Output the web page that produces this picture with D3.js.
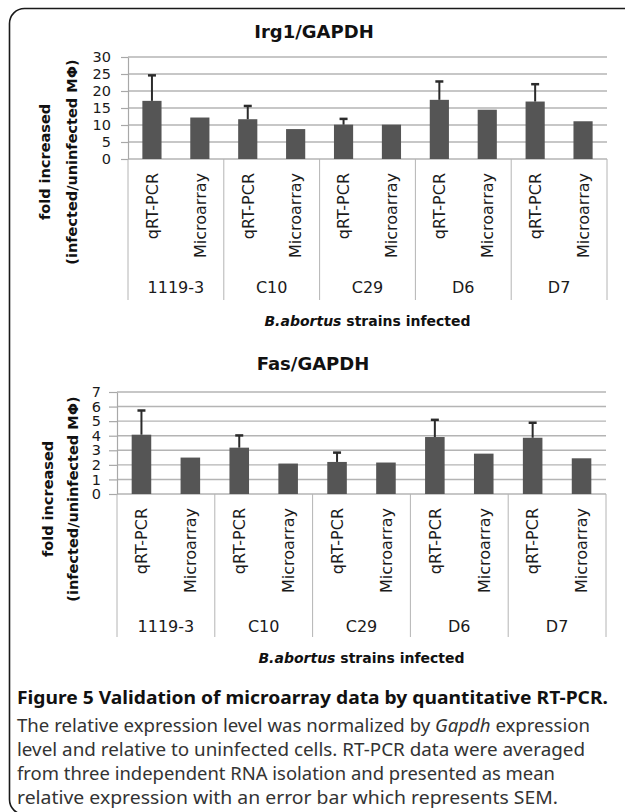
<!DOCTYPE html>
<html><head><meta charset="utf-8">
<script src="https://cdn.jsdelivr.net/npm/d3@7"></script>
<style>body{margin:0;background:#fff}svg{display:block}</style>
</head><body>
<svg id="c" width="625" height="812"></svg>
<script>
// ---- data ----
const strains = ["1119-3", "C10", "C29", "D6", "D7"];
const methods = ["qRT-PCR", "Microarray"];
const irg1QrtPcr = [17.1, 11.7, 10.1, 17.4, 16.9];
const irg1QrtPcrSem = [7.5, 3.9, 1.7, 5.4, 5.1];
const irg1Microarray = [12.2, 8.8, 10.1, 14.5, 11.1];
const irg1Ticks = [0, 5, 10, 15, 20, 25, 30];
const fasQrtPcr = [4.07, 3.18, 2.2, 3.91, 3.86];
const fasQrtPcrSem = [1.66, 0.84, 0.64, 1.18, 1.03];
const fasMicroarray = [2.5, 2.09, 2.16, 2.77, 2.45];
const fasTicks = [0, 1, 2, 3, 4, 5, 6, 7];
const yTitleLines = ["fold increased", "(infected/uninfected M\u03A6)"];
const captionBold = "Figure 5 Validation of microarray data by quantitative RT-PCR.";
const captionLines = [
  ["The relative expression level was normalized by ", "Gapdh", " expression"],
  ["level and relative to uninfected cells. RT-PCR data were averaged"],
  ["from three independent RNA isolation and presented as mean"],
  ["relative expression with an error bar which represents SEM."]
];

const svg = d3.select("#c");
const FONT = "'DejaVu Sans', sans-serif";

// border
svg.append("rect").attr("x", 9.5).attr("y", 8.5).attr("width", 650).attr("height", 806)
  .attr("rx", 15).attr("fill", "none").attr("stroke", "#1a1a1a").attr("stroke-width", 1.6);

function drawChart(cfg) {
  const g = svg.append("g");
  const rows = strains.map((s, i) => ({ strain: s, vals: [cfg.qrt[i], cfg.micro[i]], sem: cfg.sem[i] }));
  const xOuter = d3.scaleBand().domain(strains).range([cfg.left, cfg.right]).padding(0);
  const xInner = d3.scaleBand().domain(methods).range([0, xOuter.bandwidth()]).padding(0);
  const y = d3.scaleLinear().domain([0, d3.max(cfg.ticks)]).range([cfg.bottom, cfg.top]);
  const barW = xInner.bandwidth() * 0.4;

  // title
  g.append("text").attr("x", cfg.titleX).attr("y", cfg.titleY).attr("text-anchor", "middle")
    .attr("font-family", FONT).attr("font-weight", "bold").attr("font-size", 18).attr("fill", "#111")
    .text(cfg.title);

  // gridlines
  g.selectAll(".grid").data(cfg.ticks).join("line")
    .attr("x1", cfg.left).attr("x2", cfg.right)
    .attr("y1", d => y(d)).attr("y2", d => y(d))
    .attr("stroke", "#b4b4b4").attr("stroke-width", 1.4);

  // y axis
  const ax = g.append("g").attr("transform", `translate(${cfg.left},0)`)
    .call(d3.axisLeft(y).tickValues(cfg.ticks).tickFormat(d3.format("d"))
      .tickSize(cfg.tickLen).tickPadding(cfg.tickPad).tickSizeOuter(0));
  ax.select(".domain").attr("stroke", "#a8a8a8").attr("stroke-width", 1.2);
  ax.selectAll(".tick line").attr("stroke", "#a8a8a8").attr("stroke-width", 1.2);
  ax.selectAll(".tick text").attr("font-family", FONT).attr("font-size", 14.5).attr("fill", "#1a1a1a");

  // category dividers
  const bounds = strains.map(s => xOuter(s)).concat([cfg.right]);
  g.selectAll(".div").data(bounds).join("line")
    .attr("x1", d => d).attr("x2", d => d).attr("y1", cfg.bottom).attr("y2", cfg.divBottom)
    .attr("stroke", "#b4b4b4").attr("stroke-width", 1);

  // bars
  const grp = g.selectAll(".grp").data(rows).join("g")
    .attr("transform", d => `translate(${xOuter(d.strain)},0)`);
  grp.selectAll("rect").data(d => d.vals.map((v, j) => ({ m: methods[j], v }))).join("rect")
    .attr("x", d => xInner(d.m) + (xInner.bandwidth() - barW) / 2)
    .attr("width", barW)
    .attr("y", d => y(d.v)).attr("height", d => cfg.bottom - y(d.v))
    .attr("fill", "#555555");
  // error bars (upper only)
  const cx = xInner("qRT-PCR") + xInner.bandwidth() / 2;
  grp.append("line").attr("x1", cx).attr("x2", cx)
    .attr("y1", d => y(d.vals[0])).attr("y2", d => y(d.vals[0] + d.sem))
    .attr("stroke", "#2b2b2b").attr("stroke-width", 2);
  grp.append("line").attr("x1", cx - 4).attr("x2", cx + 4)
    .attr("y1", d => y(d.vals[0] + d.sem)).attr("y2", d => y(d.vals[0] + d.sem))
    .attr("stroke", "#2b2b2b").attr("stroke-width", 2.5);

  // method labels (rotated)
  grp.selectAll(".ml").data(methods).join("text")
    .attr("transform", d => `translate(${xInner(d) + xInner.bandwidth() / 2},${cfg.bottom + cfg.labelGap}) rotate(-90)`)
    .attr("dy", "0.36em").attr("text-anchor", "end")
    .attr("font-family", FONT).attr("font-size", 16).attr("fill", "#1a1a1a")
    .text(d => d);

  // strain labels
  g.selectAll(".sl").data(strains).join("text")
    .attr("x", d => xOuter(d) + xOuter.bandwidth() / 2).attr("y", cfg.strainY)
    .attr("text-anchor", "middle").attr("font-family", FONT).attr("font-size", 16).attr("fill", "#1a1a1a")
    .text(d => d);

  // x axis title
  const xt = g.append("text").attr("x", (cfg.left + cfg.right) / 2).attr("y", cfg.xTitleY)
    .attr("text-anchor", "middle").attr("font-family", FONT).attr("font-weight", "bold")
    .attr("font-size", 14).attr("fill", "#111");
  xt.append("tspan").attr("font-style", "italic").text("B.abortus");
  xt.append("tspan").text(" strains infected");

  // y axis title
  g.selectAll(".yt").data(yTitleLines).join("text")
    .attr("transform", (d, i) => `translate(${cfg.yTitleX[i]},${cfg.yTitleCY}) rotate(-90)`)
    .attr("text-anchor", "middle").attr("font-family", FONT).attr("font-weight", "bold")
    .attr("font-size", 14.5).attr("fill", "#111")
    .text(d => d);
}

drawChart({
  title: "Irg1/GAPDH", titleX: 314, titleY: 38,
  qrt: irg1QrtPcr, sem: irg1QrtPcrSem, micro: irg1Microarray, ticks: irg1Ticks,
  left: 128, right: 607, top: 57, bottom: 159,
  tickLen: 7, tickPad: 10,
  labelGap: 14, divBottom: 300, strainY: 293, xTitleY: 326,
  yTitleX: [50, 77], yTitleCY: 162
});
drawChart({
  title: "Fas/GAPDH", titleX: 313, titleY: 370,
  qrt: fasQrtPcr, sem: fasQrtPcrSem, micro: fasMicroarray, ticks: fasTicks,
  left: 117, right: 606, top: 392, bottom: 494,
  tickLen: 8, tickPad: 8,
  labelGap: 14, divBottom: 637, strainY: 632, xTitleY: 663,
  yTitleX: [53, 78], yTitleCY: 499
});

// caption
const CAP = "'Noto Sans', 'Open Sans', sans-serif";
svg.append("text").attr("x", 17).attr("y", 704)
  .attr("font-family", CAP).attr("font-weight", "bold").attr("font-size", 18).attr("fill", "#111")
  .attr("textLength", 591).attr("lengthAdjust", "spacingAndGlyphs")
  .text(captionBold);
const capLens = [573, 568, 538, 541];
captionLines.forEach((parts, i) => {
  const t = svg.append("text").attr("x", 17).attr("y", 732 + i * 24)
    .attr("font-family", CAP).attr("font-size", 17.5).attr("fill", "#333")
    .attr("textLength", capLens[i]).attr("lengthAdjust", "spacingAndGlyphs");
  parts.forEach((p, j) => {
    t.append("tspan").attr("font-style", j === 1 ? "italic" : null).text(p);
  });
});
</script>
</body></html>
